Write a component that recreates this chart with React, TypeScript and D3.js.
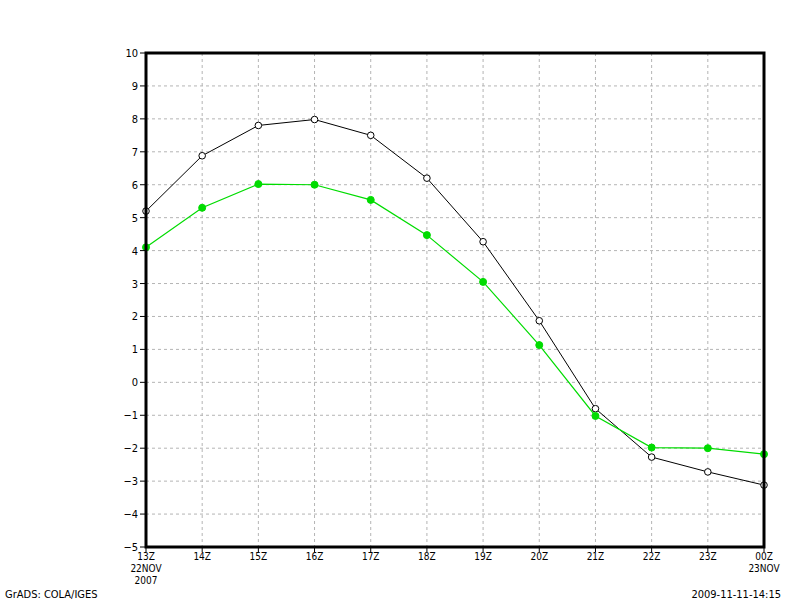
import React from "react";
import * as d3 from "d3";

const hours = ["13Z", "14Z", "15Z", "16Z", "17Z", "18Z", "19Z", "20Z", "21Z", "22Z", "23Z", "00Z"];
const dateLabels = ["22NOV", "", "", "", "", "", "", "", "", "", "", "23NOV"];
const yearLabels = ["2007", "", "", "", "", "", "", "", "", "", "", ""];
const blackSeries = [5.2, 6.88, 7.8, 7.98, 7.5, 6.2, 4.27, 1.87, -0.8, -2.27, -2.72, -3.12];
const greenSeries = [4.1, 5.3, 6.02, 6.0, 5.54, 4.47, 3.05, 1.13, -1.02, -1.98, -2.0, -2.18];
const yTicks = [-5, -4, -3, -2, -1, 0, 1, 2, 3, 4, 5, 6, 7, 8, 9, 10];

const W = 800, H = 600;
const L = 146, R = 764, T = 53, B = 547;
const font = "'Liberation Sans Narrow', 'DejaVu Sans Condensed', 'Liberation Sans', sans-serif";

export default function App() {
  const x = d3.scaleLinear().domain([0, hours.length - 1]).range([L, R]);
  const y = d3.scaleLinear().domain([-5, 10]).range([B, T]);
  const line = d3.line<number>().x((_, i) => x(i)).y((d) => y(d));
  const fmt = (v: number) => (v < 0 ? "\u2212" + Math.abs(v) : String(v));
  return (
    <svg width={W} height={H} style={{ position: "absolute", left: 0, top: 0, background: "#fff" }}>
      <rect x={0} y={0} width={W} height={H} fill="#fff" />
      {yTicks.map((t) => (
        <line key={"gy" + t} x1={L} x2={R} y1={y(t)} y2={y(t)} stroke="#b4b4b4" strokeWidth={1} strokeDasharray="3,3" />
      ))}
      {hours.map((h, i) => (
        <line key={"gx" + i} x1={x(i)} x2={x(i)} y1={T} y2={B} stroke="#b4b4b4" strokeWidth={1} strokeDasharray="3,3" />
      ))}
      <path d={line(blackSeries) || ""} fill="none" stroke="#000" strokeWidth={1} />
      <path d={line(greenSeries) || ""} fill="none" stroke="#00dc00" strokeWidth={1.2} />
      {blackSeries.map((v, i) => (
        <circle key={"b" + i} cx={x(i)} cy={y(v)} r={3.3} fill="#fff" stroke="#000" strokeWidth={1} />
      ))}
      {greenSeries.map((v, i) => (
        <circle key={"g" + i} cx={x(i)} cy={y(v)} r={3.5} fill="#00dc00" stroke="#00dc00" strokeWidth={1} />
      ))}
      <rect x={L} y={T} width={R - L} height={B - T} fill="none" stroke="#000" strokeWidth={3} />
      {yTicks.map((t) => (
        <g key={"yt" + t}>
          <line x1={L - 6} x2={L} y1={y(t)} y2={y(t)} stroke="#000" strokeWidth={1} />
          <text x={L - 8} y={y(t) + 4} textAnchor="end" fontFamily={font} fontSize={11} fill="#000">{fmt(t)}</text>
        </g>
      ))}
      {hours.map((h, i) => (
        <g key={"xt" + i}>
          <line x1={x(i)} x2={x(i)} y1={B} y2={B + 5} stroke="#000" strokeWidth={1} />
          <text x={x(i)} y={B + 13} textAnchor="middle" fontFamily={font} fontSize={10} fill="#000">{h}</text>
          {dateLabels[i] && (
            <text x={x(i)} y={B + 25} textAnchor="middle" fontFamily={font} fontSize={10} fill="#000">{dateLabels[i]}</text>
          )}
          {yearLabels[i] && (
            <text x={x(i)} y={B + 37} textAnchor="middle" fontFamily={font} fontSize={10} fill="#000">{yearLabels[i]}</text>
          )}
        </g>
      ))}
      <text x={5} y={598} fontFamily={font} fontSize={11} fill="#000">GrADS: COLA/IGES</text>
      <text x={781} y={598} textAnchor="end" fontFamily={font} fontSize={11} fill="#000">2009-11-11-14:15</text>
    </svg>
  );
}
